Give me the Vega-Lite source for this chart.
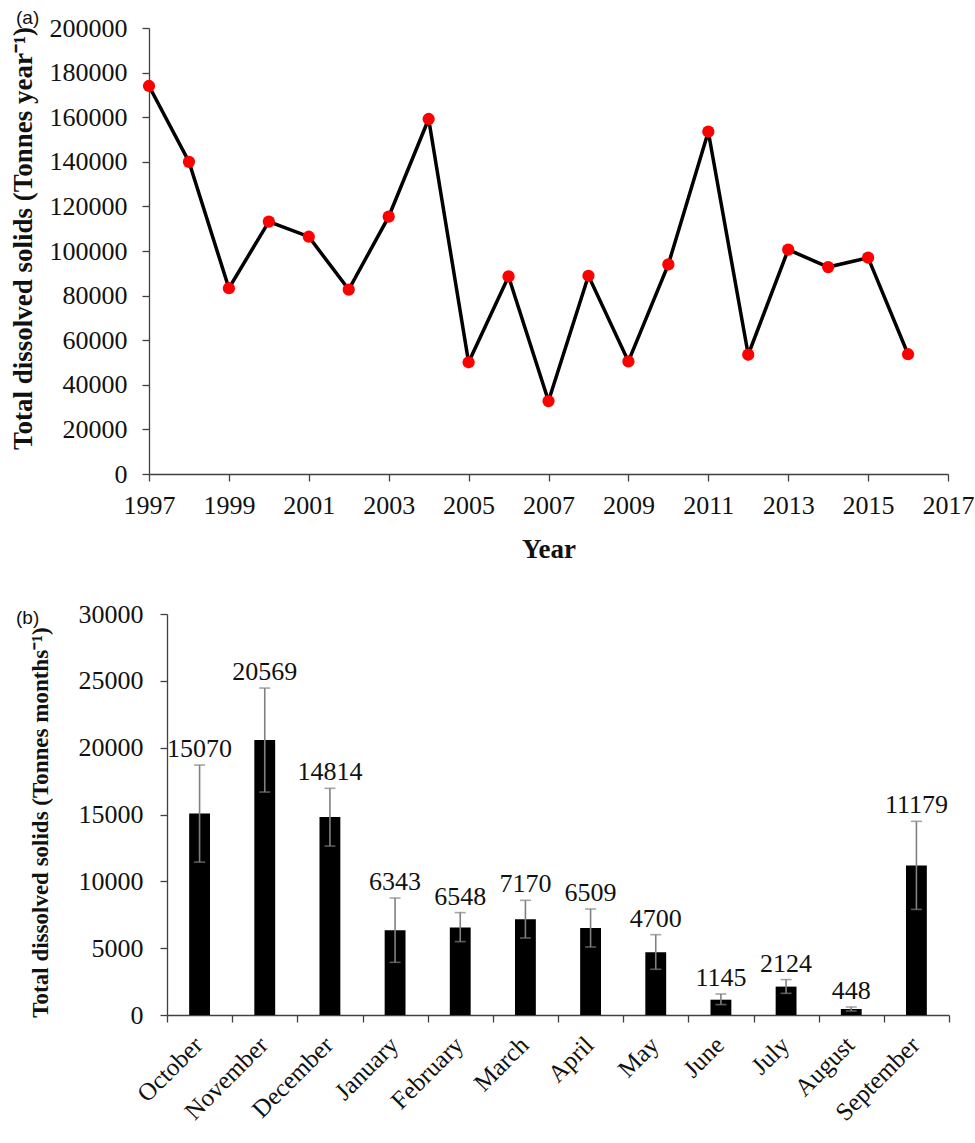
{
  "$schema": "https://vega.github.io/schema/vega-lite/v6.json",
  "background": "white",
  "padding": {"left": 9, "top": 9, "right": 0, "bottom": 0},
  "config": {
    "font": "Liberation Serif",
    "view": {"stroke": null},
    "axis": {"domainColor": "#404040", "tickColor": "#404040", "labelColor": "#111111", "titleColor": "#111111", "grid": false, "labelFont": "Liberation Serif", "titleFont": "Liberation Serif", "domainWidth": 1.3, "tickWidth": 1.3}
  },
  "datasets": {
    "annual": [
      {"year": 1997, "tds": 174000},
      {"year": 1998, "tds": 140000},
      {"year": 1999, "tds": 83300},
      {"year": 2000, "tds": 113200},
      {"year": 2001, "tds": 106400},
      {"year": 2002, "tds": 82700},
      {"year": 2003, "tds": 115400},
      {"year": 2004, "tds": 159200},
      {"year": 2005, "tds": 50100},
      {"year": 2006, "tds": 88600},
      {"year": 2007, "tds": 32700},
      {"year": 2008, "tds": 88900},
      {"year": 2009, "tds": 50500},
      {"year": 2010, "tds": 94000},
      {"year": 2011, "tds": 153500},
      {"year": 2012, "tds": 53500},
      {"year": 2013, "tds": 100600},
      {"year": 2014, "tds": 92800},
      {"year": 2015, "tds": 97000},
      {"year": 2016, "tds": 53700}
    ],
    "monthly": [
      {"month": "October", "value": 15070, "lower": 11440, "upper": 18700},
      {"month": "November", "value": 20569, "lower": 16680, "upper": 24460},
      {"month": "December", "value": 14814, "lower": 12640, "upper": 16960},
      {"month": "January", "value": 6343, "lower": 3940, "upper": 8750},
      {"month": "February", "value": 6548, "lower": 5490, "upper": 7660},
      {"month": "March", "value": 7170, "lower": 5760, "upper": 8580},
      {"month": "April", "value": 6509, "lower": 5090, "upper": 7930},
      {"month": "May", "value": 4700, "lower": 3420, "upper": 6010},
      {"month": "June", "value": 1145, "lower": 780, "upper": 1570},
      {"month": "July", "value": 2124, "lower": 1620, "upper": 2650},
      {"month": "August", "value": 448, "lower": 300, "upper": 600},
      {"month": "September", "value": 11179, "lower": 7900, "upper": 14490}
    ]
  },
  "spacing": 39,
  "vconcat": [
    {
      "width": 799,
      "height": 446,
      "title": {"text": "(a)", "font": "Liberation Sans", "fontSize": 19, "fontWeight": "normal", "anchor": "start", "frame": "group", "dx": -133, "offset": -13, "color": "#111111"},
      "data": {"name": "annual"},
      "encoding": {
        "x": {"field": "year", "type": "quantitative",
          "scale": {"domain": [1997, 2017], "nice": false, "zero": false},
          "axis": {"values": [1997, 1999, 2001, 2003, 2005, 2007, 2009, 2011, 2013, 2015, 2017], "format": "d", "title": "Year", "titleFontWeight": "bold", "titleFontSize": 27, "labelFontSize": 26, "tickSize": 7, "labelPadding": 11, "titlePadding": 18, "labelFlush": false, "labelOverlap": false}},
        "y": {"field": "tds", "type": "quantitative",
          "scale": {"domain": [0, 200000], "nice": false},
          "axis": {"values": [0, 20000, 40000, 60000, 80000, 100000, 120000, 140000, 160000, 180000, 200000], "format": "d", "title": "Total dissolved solids (Tonnes year⁻¹)", "titleFontWeight": "bold", "titleFontSize": 27, "labelFontSize": 26, "tickSize": 7, "labelPadding": 15, "titlePadding": 12, "titleY": 210}}
      },
      "layer": [
        {"mark": {"type": "line", "color": "black", "strokeWidth": 3.5}},
        {"mark": {"type": "circle", "color": "#ff0000", "size": 150, "opacity": 1}}
      ]
    },
    {
      "width": 800,
      "height": 401,
      "title": {"text": "(b)", "font": "Liberation Sans", "fontSize": 19, "fontWeight": "normal", "anchor": "start", "frame": "group", "dx": -133, "offset": -27, "color": "#111111"},
      "data": {"name": "monthly"},
      "encoding": {
        "x": {"field": "month", "type": "nominal",
          "sort": ["October", "November", "December", "January", "February", "March", "April", "May", "June", "July", "August", "September"],
          "scale": {"paddingInner": 0, "paddingOuter": 0, "range": [18, 800]},
          "axis": {"title": null, "labelAngle": -45, "labelFontSize": 25, "tickSize": 7, "tickBand": "extent", "labelOffset": -10, "labelPadding": 10}}
      },
      "layer": [
        {"mark": {"type": "bar", "color": "black", "width": {"band": 0.32}},
          "encoding": {"y": {"field": "value", "type": "quantitative", "title": "Total dissolved solids (Tonnes months⁻¹)",
            "scale": {"domain": [0, 30000], "nice": false},
            "axis": {"values": [0, 5000, 10000, 15000, 20000, 25000, 30000], "format": "d", "offset": -18, "titleFontSize": 23, "titleFontWeight": "bold", "labelFontSize": 26, "tickSize": 7, "labelPadding": 17, "titlePadding": 26, "titleY": 208}}}},
        {"mark": {"type": "rule", "color": "#808080", "strokeWidth": 1.6},
          "encoding": {"y": {"field": "lower", "type": "quantitative", "title": "Total dissolved solids (Tonnes months⁻¹)"}, "y2": {"field": "upper"}}},
        {"mark": {"type": "tick", "color": "#808080", "size": 11, "thickness": 1.6},
          "encoding": {"y": {"field": "upper", "type": "quantitative", "title": "Total dissolved solids (Tonnes months⁻¹)"}}},
        {"mark": {"type": "tick", "color": "#808080", "size": 11, "thickness": 1.6},
          "encoding": {"y": {"field": "lower", "type": "quantitative", "title": "Total dissolved solids (Tonnes months⁻¹)"}}},
        {"mark": {"type": "text", "fontSize": 26, "baseline": "alphabetic", "dy": -8, "color": "#111111"},
          "encoding": {"y": {"field": "upper", "type": "quantitative", "title": "Total dissolved solids (Tonnes months⁻¹)"}, "text": {"field": "value", "type": "quantitative", "format": "d"}}}
      ]
    }
  ]
}
